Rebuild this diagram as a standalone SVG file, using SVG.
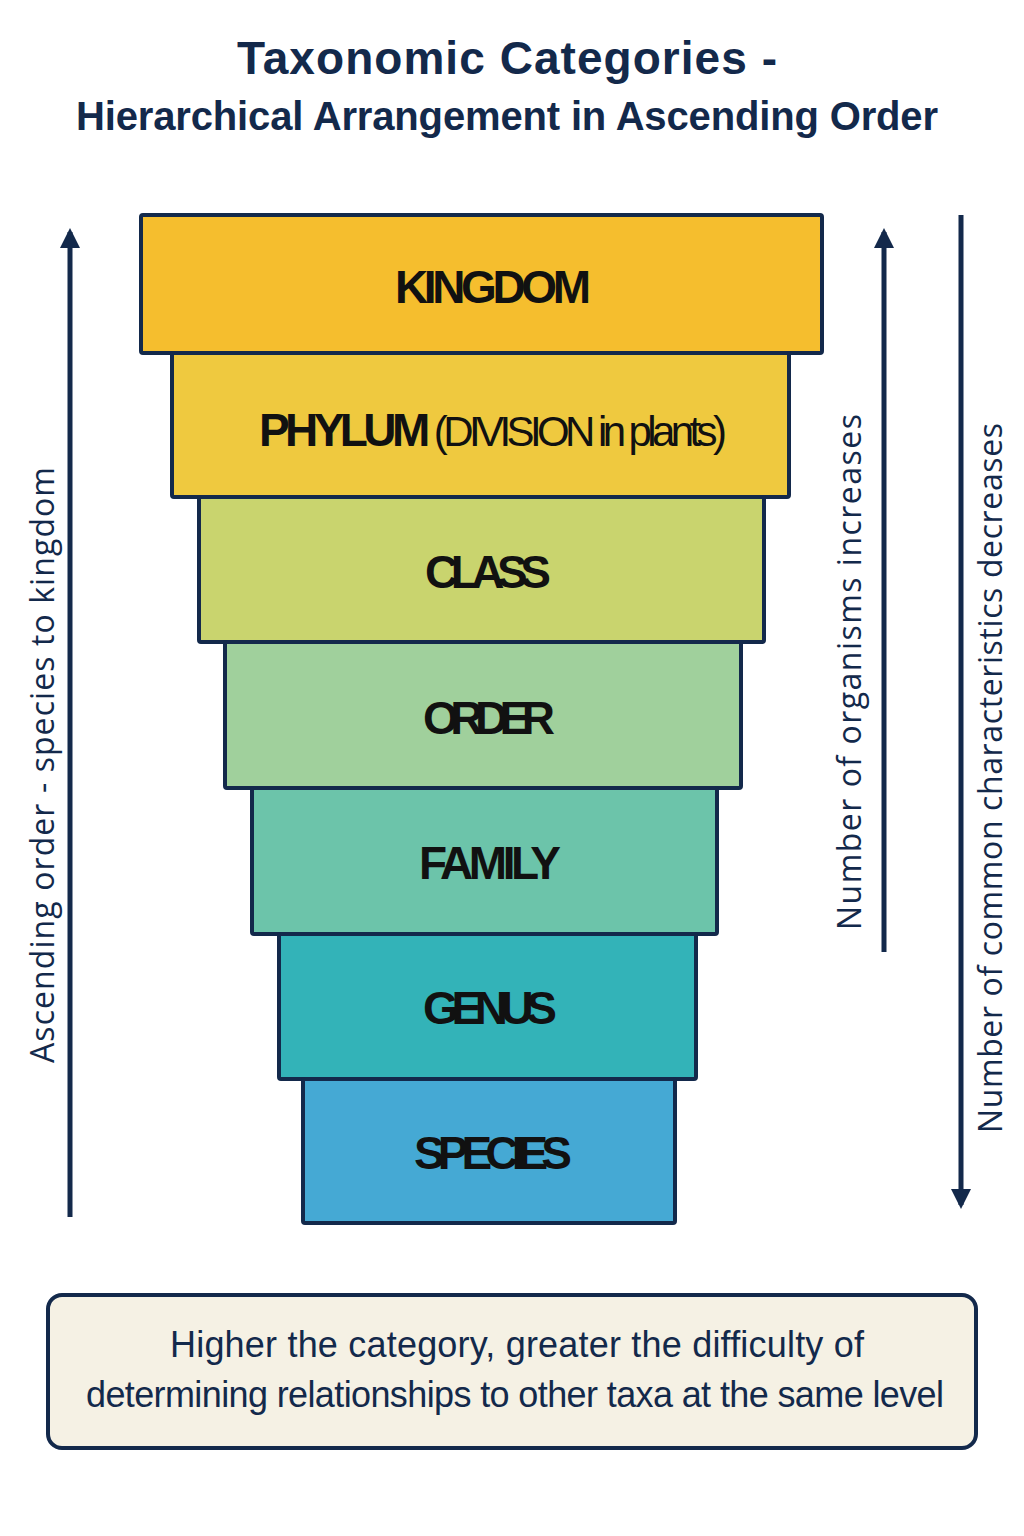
<svg xmlns="http://www.w3.org/2000/svg" width="1024" height="1536" viewBox="0 0 1024 1536">
<style>
.t{font-family:"Liberation Sans",Arial,sans-serif;fill:#13294B;font-weight:bold;text-anchor:middle}
.box{stroke:#13294B;stroke-width:4}
.lab{font-family:"Liberation Sans",Arial,sans-serif;font-weight:bold;font-size:46px;fill:#111;text-anchor:middle}
.side{font-family:"Open Sans","Liberation Sans",sans-serif;font-size:32px;fill:#13294B;text-anchor:middle}
.ln{stroke:#13294B;stroke-width:5;fill:none}
</style>
<defs><marker id="ah" viewBox="0 0 10 10" refX="8" refY="5" markerWidth="4" markerHeight="4" orient="auto" markerUnits="strokeWidth"><path d="M0,0 L10,5 L0,10 z" fill="#13294B"/></marker></defs>
<rect width="1024" height="1536" fill="#fff"/>
<text class="t" x="507" y="74" font-size="46" textLength="540">Taxonomic Categories -</text>
<text class="t" x="507" y="130" font-size="40" textLength="862">Hierarchical Arrangement in Ascending Order</text>
<g id="kingdom"><rect class="box" x="141" y="215" width="681" height="138" fill="#F5BE2E" rx="2"/><text class="lab" x="493" y="303" textLength="196">KINGDOM</text></g>
<g id="phylum"><rect class="box" x="172" y="353" width="617" height="144" fill="#EFC93F" rx="2"/><text class="lab" x="493" y="446" textLength="468">PHYLUM <tspan font-weight="normal" font-size="42">(DIVISION in plants)</tspan></text></g>
<g id="class"><rect class="box" x="199" y="497" width="565" height="145" fill="#C9D46E" rx="2"/><text class="lab" x="488" y="588" textLength="126">CLASS</text></g>
<g id="order"><rect class="box" x="225" y="642" width="516" height="146" fill="#A0D09C" rx="2"/><text class="lab" x="489" y="734" textLength="132">ORDER</text></g>
<g id="family"><rect class="box" x="252" y="788" width="465" height="146" fill="#6CC4AA" rx="2"/><text class="lab" x="490" y="879" textLength="142">FAMILY</text></g>
<g id="genus"><rect class="box" x="279" y="934" width="417" height="145" fill="#33B3B8" rx="2"/><text class="lab" x="490" y="1024" textLength="134">GENUS</text></g>
<g id="species"><rect class="box" x="303" y="1079" width="372" height="144" fill="#45A9D4" rx="2"/><text class="lab" x="493" y="1169" textLength="158">SPECIES</text></g>
<g id="connectors">
<line class="ln" x1="70" y1="1217" x2="70" y2="232" marker-end="url(#ah)"/>
<line class="ln" x1="884" y1="952" x2="884" y2="232" marker-end="url(#ah)"/>
<line class="ln" x1="961" y1="215" x2="961" y2="1205" marker-end="url(#ah)"/>
</g>
<text class="side" transform="translate(54,765) rotate(-90)" textLength="596">Ascending order - species to kingdom</text>
<text class="side" transform="translate(861,672) rotate(-90)" textLength="516">Number of organisms increases</text>
<text class="side" transform="translate(1002,778) rotate(-90)" textLength="710">Number of common characteristics decreases</text>
<g id="note"><rect x="48" y="1295" width="928" height="153" rx="14" fill="#F5F1E4" stroke="#13294B" stroke-width="4"/>
<text class="t" x="517" y="1357" font-size="36" font-weight="normal" style="font-weight:normal" textLength="694">Higher the category, greater the difficulty of</text>
<text class="t" x="515" y="1407" font-size="36" style="font-weight:normal" textLength="858">determining relationships to other taxa at the same level</text></g>
</svg>
